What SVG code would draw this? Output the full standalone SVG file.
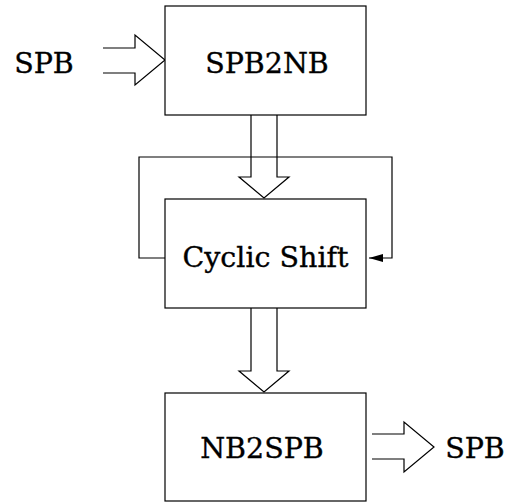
<svg xmlns="http://www.w3.org/2000/svg" width="511" height="502" viewBox="0 0 511 502">
  <style>
    .box { fill: #fff; stroke: #000; stroke-width: 1.2; }
    .wire { fill: none; stroke: #000; stroke-width: 1.2; }
    .label { font-family: "DejaVu Serif", "Liberation Serif", serif; font-size: 28.5px; fill: #000; stroke: #000; stroke-width: 0.35; text-anchor: middle; }
  </style>
  <defs>
    <marker id="head" markerWidth="14" markerHeight="8" refX="14" refY="4" orient="auto" markerUnits="userSpaceOnUse">
      <path d="M0,0 L14,4 L0,8 Z" fill="#000"/>
    </marker>
  </defs>
  <rect width="511" height="502" fill="#fff"/>

  <!-- connectors: wide bus arrows and the feedback loop -->
  <g id="connectors">
    <path class="wire" d="M103,48 H135 V35 L165,60 L135,85 V73 H103"/>
    <path class="wire" d="M251,115 V177 H239 L264,198 L289,177 H277 V115"/>
    <path class="wire" d="M251,308 V371 H239 L264,392 L289,371 H277 V308"/>
    <path class="wire" d="M372,434 H404 V422 L434,447 L404,472 V459 H372"/>
    <path class="wire" d="M165,258 H139 V157 H392 V258 H369" marker-end="url(#head)"/>
  </g>

  <g id="in-label">
    <text class="label" x="44" y="73">SPB</text>
  </g>
  <g id="spb2nb">
    <rect class="box" x="165" y="6" width="201" height="109"/>
    <text class="label" x="267" y="73">SPB2NB</text>
  </g>
  <g id="cyclic-shift">
    <rect class="box" x="165" y="199" width="201" height="109"/>
    <text class="label" x="265.5" y="267">Cyclic Shift</text>
  </g>
  <g id="nb2spb">
    <rect class="box" x="165" y="393" width="201" height="108"/>
    <text class="label" x="262" y="458">NB2SPB</text>
  </g>
  <g id="out-label">
    <text class="label" x="475" y="458">SPB</text>
  </g>
</svg>
